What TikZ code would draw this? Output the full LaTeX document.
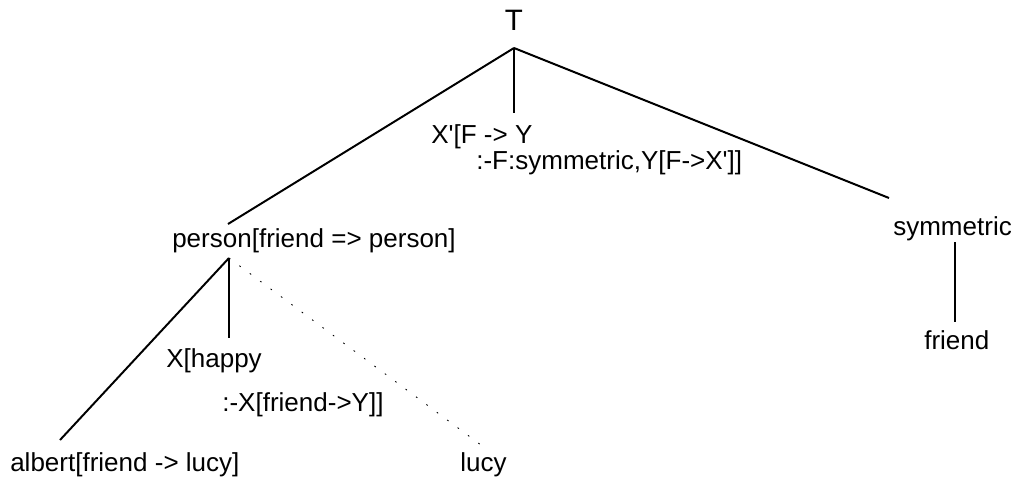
\documentclass[tikz,border=0pt]{standalone}
\usepackage{fontspec}
\newfontfamily\treefont{Liberation Sans}
\usetikzlibrary{positioning}

\begin{document}
\begin{tikzpicture}[x=0.025cm,y=-0.025cm]
    \tikzstyle{lbl}=[inner sep=0pt,anchor=west,align=left,font=\treefont\fontsize{18.5}{18.5}\selectfont]
    \tikzstyle{edge}=[line width=1.4pt]
    \tikzstyle{hidden}=[line width=.6pt,dash pattern=on 1.2pt off 8pt]
    \useasboundingbox (0,0) rectangle (1021,481);
    % labels
    \node[lbl,anchor=center,font=\treefont\fontsize{21}{21}\selectfont] (root) at (514,20) {T};
    \node[lbl] (rule)   at (431,150) {X'[F -> Y\\\hspace*{1.125cm}:-F:symmetric,Y[F->X']]};
    \node[lbl] (person) at (172,241) {person[friend => person]};
    \node[lbl] (symm)   at (893,229) {symmetric};
    \node[lbl] (friend) at (924,340) {friend};
    \node[lbl] (happy)  at (166,383) {X[happy\\[13pt]\hspace*{1.4cm}:-X[friend->Y]]};
    \node[lbl] (albert) at (10,465)  {albert[friend -> lucy]};
    \node[lbl] (lucy)   at (460,465) {lucy};
    % branch points
    \coordinate (rootfork) at (514,48);
    \coordinate (personin) at (228,224);
    \coordinate (rulein)   at (514,113);
    \coordinate (symmin)   at (889,198);
    \coordinate (personfork) at (229,258);
    \coordinate (albertin) at (60,440);
    \coordinate (happyin)  at (229,338);
    \coordinate (lucyin)   at (485,448);
    \coordinate (symmfork) at (955,242);
    \coordinate (friendin) at (955,322);
    \draw[edge] (rootfork) -- (personin);
    \draw[edge] (rootfork) -- (rulein);
    \draw[edge] (rootfork) -- (symmin);
    \draw[edge] (personfork) -- (albertin);
    \draw[edge] (personfork) -- (happyin);
    \draw[hidden] (personfork) -- (lucyin);
    \draw[edge] (symmfork) -- (friendin);
\end{tikzpicture}
\end{document}
